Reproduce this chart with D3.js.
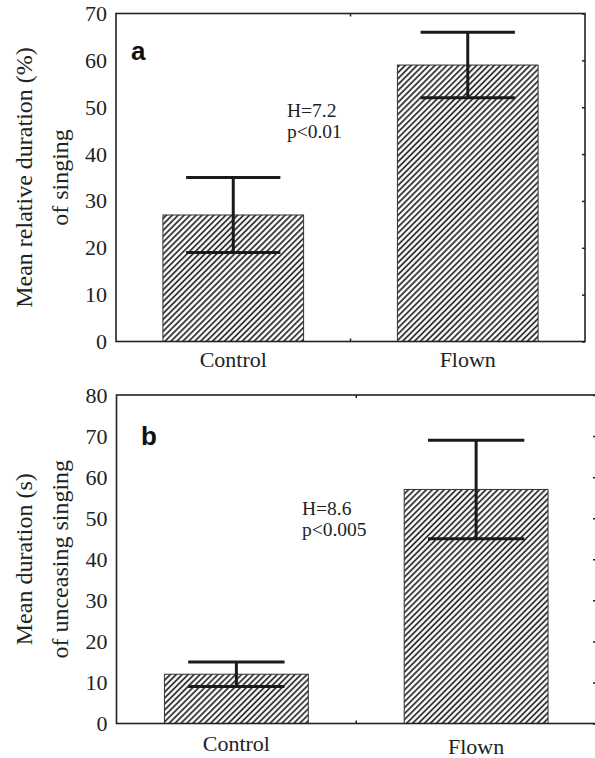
<!DOCTYPE html>
<html><head><meta charset="utf-8">
<script src="https://cdn.jsdelivr.net/npm/d3@7"></script>
<style>
html,body{margin:0;padding:0;background:#fff;}
svg{display:block;}
.tick text{font-family:"Liberation Serif","Times New Roman",serif;}
</style></head>
<body><svg id="chart" width="595" height="758"></svg>
<script>
const categories = ["Control", "Flown"];
// Panel a: mean relative duration (%) of singing
const meansA = [27, 59];
const lowerA = [19, 52];
const upperA = [35, 66];
const ticksA = [0, 10, 20, 30, 40, 50, 60, 70];
// Panel b: mean duration (s) of unceasing singing
const meansB = [12, 57];
const lowerB = [9, 45];
const upperB = [15, 69];
const ticksB = [0, 10, 20, 30, 40, 50, 60, 70, 80];

const svg = d3.select("#chart");
const defs = svg.append("defs");
const sp = 4.2;
const pat = defs.append("pattern").attr("id", "hatch")
  .attr("patternUnits", "userSpaceOnUse").attr("width", sp).attr("height", sp)
  .attr("patternTransform", "rotate(45)");
pat.append("rect").attr("width", sp).attr("height", sp).attr("fill", "#fff");
pat.append("line").attr("x1", 1).attr("y1", 0).attr("x2", 1).attr("y2", sp)
  .attr("stroke", "#262626").attr("stroke-width", 1.7);

const serif = "'Liberation Serif','Times New Roman',serif";

function panel(cfg) {
  const g = svg.append("g");
  const x = d3.scaleBand().domain(categories).range([cfg.left, cfg.right])
    .paddingInner(0.4).paddingOuter(0.2);
  const y = d3.scaleLinear().domain([0, cfg.max]).range([cfg.bottom, cfg.top]);

  // bars
  g.selectAll("rect.bar").data(categories).join("rect")
    .attr("x", d => x(d)).attr("width", x.bandwidth())
    .attr("y", (d, i) => y(cfg.means[i]))
    .attr("height", (d, i) => y(0) - y(cfg.means[i]))
    .attr("fill", "url(#hatch)").attr("stroke", "#333").attr("stroke-width", 1);

  // error bars
  const capW = x.bandwidth() * 0.67;
  categories.forEach((c, i) => {
    const cx = x(c) + x.bandwidth() / 2;
    const eb = g.append("g").attr("stroke", "#1a1a1a").attr("stroke-width", 3);
    eb.append("line").attr("x1", cx).attr("x2", cx)
      .attr("y1", y(cfg.upper[i])).attr("y2", y(cfg.lower[i]));
    eb.append("line").attr("x1", cx - capW / 2).attr("x2", cx + capW / 2)
      .attr("y1", y(cfg.upper[i])).attr("y2", y(cfg.upper[i]));
    eb.append("line").attr("x1", cx - capW / 2).attr("x2", cx + capW / 2)
      .attr("y1", y(cfg.lower[i])).attr("y2", y(cfg.lower[i]));
  });

  // left axis
  const yAxis = g.append("g").attr("transform", `translate(${cfg.left},0)`)
    .call(d3.axisLeft(y).tickValues(cfg.ticks).tickSize(0).tickPadding(9));
  yAxis.select(".domain").remove();
  yAxis.selectAll("text").style("font-size", "22px").attr("fill", "#222");

  // right axis (inward ticks)
  const yR = g.append("g").attr("transform", `translate(${cfg.right},0)`)
    .call(d3.axisRight(y).tickValues(cfg.ticks).tickSize(-3).tickFormat(""));
  yR.select(".domain").remove();
  yR.selectAll("line").attr("stroke", "#222").attr("stroke-width", 1.5);

  // mid ticks top/bottom
  const mid = (cfg.left + cfg.right) / 2;
  [[cfg.top, cfg.top + 3], [cfg.bottom, cfg.bottom - 3]].forEach(([a, b]) => {
    g.append("line").attr("x1", mid).attr("x2", mid).attr("y1", a).attr("y2", b)
      .attr("stroke", "#222").attr("stroke-width", 1.5);
  });

  // frame
  g.append("rect").attr("x", cfg.left).attr("y", cfg.top)
    .attr("width", cfg.right - cfg.left).attr("height", cfg.bottom - cfg.top)
    .attr("fill", "none").attr("stroke", "#222").attr("stroke-width", 1.6);

  // x labels
  categories.forEach((c, i) => {
    g.append("text").attr("x", x(c) + x.bandwidth() / 2).attr("y", cfg.xLabelY[i])
      .attr("text-anchor", "middle").style("font-family", serif).style("font-size", "22px")
      .attr("fill", "#222").text(c);
  });

  // y labels
  const cy = (cfg.top + cfg.bottom) / 2;
  cfg.yLabel.forEach((t, i) => {
    g.append("text").attr("transform", `translate(${[32, 68][i]},${cy}) rotate(-90)`)
      .attr("text-anchor", "middle").style("font-family", serif).style("font-size", "24px")
      .attr("fill", "#222").text(t);
  });

  // panel letter
  g.append("text").attr("x", cfg.letterPos[0]).attr("y", cfg.letterPos[1])
    .style("font-family", "'Liberation Sans',Arial,sans-serif").style("font-weight", "bold")
    .style("font-size", "26px").attr("fill", "#111").text(cfg.letter);

  // statistics
  cfg.stats.forEach((t, i) => {
    g.append("text").attr("x", cfg.statPos[0]).attr("y", cfg.statPos[1] + i * 21)
      .style("font-family", serif).style("font-size", "19.5px").attr("fill", "#222").text(t);
  });
}

panel({
  left: 116, right: 585, top: 13.5, bottom: 341.5, max: 70,
  means: meansA, lower: lowerA, upper: upperA, ticks: ticksA,
  xLabelY: [367, 367],
  yLabel: ["Mean relative duration (%)", "of singing"],
  letter: "a", letterPos: [131, 60],
  stats: ["H=7.2", "p<0.01"], statPos: [287, 117]
});
panel({
  left: 116.5, right: 596, top: 395, bottom: 723.5, max: 80,
  means: meansB, lower: lowerB, upper: upperB, ticks: ticksB,
  xLabelY: [751, 754],
  yLabel: ["Mean duration (s)", "of unceasing singing"],
  letter: "b", letterPos: [141, 445],
  stats: ["H=8.6", "p<0.005"], statPos: [302, 515]
});
</script></body></html>
